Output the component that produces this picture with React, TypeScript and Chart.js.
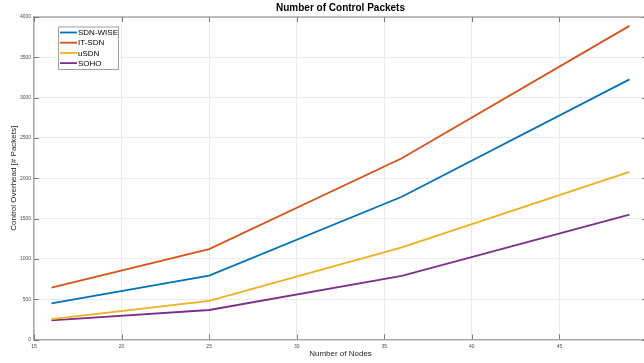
import React, { useEffect, useRef } from "react";
import { Chart, registerables } from "chart.js";

Chart.register(...registerables);

const nodes = [16, 25, 36, 49];
const sdnWise = [449, 792, 1770, 3226];
const itSdn = [642, 1122, 2248, 3890];
const uSdn = [254, 478, 1144, 2080];
const soho = [236, 366, 788, 1548];

const seriesNames = ["SDN-WISE", "IT-SDN", "uSDN", "SOHO"];
const seriesColors = ["#0072BD", "#D95319", "#EDB120", "#7E2F8E"];
const seriesValues = [sdnWise, itSdn, uSdn, soho];

const titleText = "Number of Control Packets";
const xTitle = "Number of Nodes";
const yTitle = "Control Overhead [# Packets]";

const FONT = "'Liberation Sans', Arial, sans-serif";

const matlabPlugin = {
  id: "matlabDecor",
  afterDraw(chart: any) {
    const ctx = chart.ctx;
    const { left, right, top, bottom } = chart.chartArea;
    const xs = chart.scales.x;
    const ys = chart.scales.y;
    ctx.save();
    // frame (top/right)
    ctx.strokeStyle = "#a9a9a9";
    ctx.lineWidth = 1.5;
    ctx.beginPath();
    ctx.moveTo(left, top);
    ctx.lineTo(right, top);
    ctx.lineTo(right, bottom);
    ctx.stroke();
    // inward ticks
    ctx.strokeStyle = "#7a7a7a";
    ctx.lineWidth = 1;
    const tl = 5;
    ctx.beginPath();
    xs.ticks.forEach((t: any) => {
      const px = Math.round(xs.getPixelForValue(t.value)) + 0.5;
      ctx.moveTo(px, bottom);
      ctx.lineTo(px, bottom - tl);
      ctx.moveTo(px, top);
      ctx.lineTo(px, top + tl);
    });
    ys.ticks.forEach((t: any) => {
      const py = Math.round(ys.getPixelForValue(t.value)) + 0.5;
      ctx.moveTo(left, py);
      ctx.lineTo(left + tl, py);
      ctx.moveTo(right, py);
      ctx.lineTo(right - tl, py);
    });
    ctx.stroke();

    // chart title
    ctx.fillStyle = "#000000";
    ctx.font = `bold 10px ${FONT}`;
    ctx.textAlign = "center";
    ctx.textBaseline = "middle";
    ctx.fillText(titleText, (left + right) / 2, 8.5);

    // axis titles
    ctx.fillStyle = "#262626";
    ctx.font = `8px ${FONT}`;
    ctx.fillText(xTitle, (left + right) / 2, 354);
    ctx.save();
    ctx.translate(13.5, (top + bottom) / 2);
    ctx.rotate(-Math.PI / 2);
    ctx.fillText(yTitle, 0, 0);
    ctx.restore();

    // legend
    const bx = 58.5, by = 27, bw = 60, bh = 42.5;
    ctx.fillStyle = "#ffffff";
    ctx.fillRect(bx, by, bw, bh);
    ctx.strokeStyle = "#a0a0a0";
    ctx.lineWidth = 1;
    ctx.strokeRect(bx, by, bw, bh);
    ctx.font = `8px ${FONT}`;
    ctx.textAlign = "left";
    ctx.textBaseline = "middle";
    chart.data.datasets.forEach((ds: any, i: number) => {
      const y = 32.5 + i * 10.2;
      ctx.strokeStyle = ds.borderColor;
      ctx.lineWidth = 1.8;
      ctx.beginPath();
      ctx.moveTo(60, y);
      ctx.lineTo(77, y);
      ctx.stroke();
      ctx.fillStyle = "#000000";
      ctx.fillText(ds.label, 78, y + 0.5);
    });
    ctx.restore();
  },
};

export default function App() {
  const ref = useRef<HTMLCanvasElement | null>(null);
  useEffect(() => {
    if (!ref.current) return;
    const chart = new Chart(ref.current, {
      type: "line",
      data: {
        datasets: seriesNames.map((name, i) => ({
          label: name,
          data: nodes.map((n, j) => ({ x: n, y: seriesValues[i][j] })),
          borderColor: seriesColors[i],
          backgroundColor: seriesColors[i],
          borderWidth: 1.8,
          pointRadius: 0,
          tension: 0,
          fill: false,
        })),
      },
      options: {
        animation: false,
        responsive: false,
        maintainAspectRatio: false,
        layout: { padding: { left: 0, right: 13, top: 17, bottom: 0 } },
        plugins: {
          legend: { display: false },
          tooltip: { enabled: false },
          title: { display: false },
        },
        scales: {
          x: {
            type: "linear",
            min: 15,
            max: 50,
            ticks: {
              stepSize: 5,
              color: "#4d4d4d",
              font: { family: FONT, size: 5 },
              padding: 4,
              maxRotation: 0,
              callback: (v: any) => String(v),
            },
            grid: { color: "#ebebeb", lineWidth: 1, drawTicks: false },
            border: { display: true, color: "#a9a9a9", width: 1.5 },
            afterFit: (s: any) => {
              s.height = 23.5;
            },
          },
          y: {
            type: "linear",
            min: 0,
            max: 4000,
            ticks: {
              stepSize: 500,
              color: "#4d4d4d",
              font: { family: FONT, size: 5 },
              padding: 3,
              callback: (v: any) => String(v),
            },
            grid: { color: "#ebebeb", lineWidth: 1, drawTicks: false },
            border: { display: true, color: "#a9a9a9", width: 1.5 },
            afterFit: (s: any) => {
              s.width = 34;
            },
          },
        },
      },
      plugins: [matlabPlugin],
    });
    return () => chart.destroy();
  }, []);
  return (
    <div
      style={{
        position: "fixed",
        left: 0,
        top: 0,
        width: 644,
        height: 363,
        overflow: "hidden",
        background: "#ffffff",
      }}
    >
      <canvas ref={ref} width={660} height={363} style={{ display: "block", width: 660, height: 363 }} />
    </div>
  );
}
